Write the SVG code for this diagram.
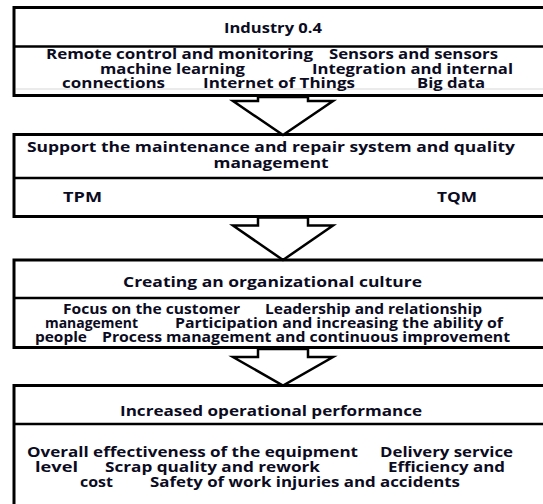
<svg xmlns="http://www.w3.org/2000/svg" width="543" height="504" viewBox="0 0 543 504">
  <style>
    .box { fill: #ffffff; stroke: #000000; stroke-width: 3; }
    .div { stroke: #000000; stroke-width: 2.5; fill: none; }
    .shade { stroke: #e4e4e4; stroke-width: 1.5; fill: none; }
    .arrow { fill: #ffffff; stroke: #000000; stroke-width: 2.5; stroke-linejoin: miter; }
    text { font-family: "Open Sans", "Liberation Sans", sans-serif; font-weight: 700; font-size: 13.5px; fill: #0b0b22; }
    .c { text-anchor: middle; }
  </style>
  <rect width="543" height="504" fill="#ffffff"/>

  <!-- Stage 1 -->
  <g id="industry">
    <rect class="box" x="14" y="7.5" width="560" height="88"/>
    <line class="div" x1="14" y1="46.5" x2="560" y2="46.5"/>
    <line class="shade" x1="16" y1="89" x2="560" y2="89"/>
    <text class="c" x="273" y="33" textLength="98" lengthAdjust="spacingAndGlyphs">Industry 0.4</text>
    <text>
      <tspan x="46" y="59" textLength="267" lengthAdjust="spacingAndGlyphs">Remote control and monitoring</tspan>
      <tspan x="329" y="59" textLength="169" lengthAdjust="spacingAndGlyphs">Sensors and sensors</tspan>
      <tspan x="100" y="73.5" textLength="145" lengthAdjust="spacingAndGlyphs">machine learning</tspan>
      <tspan x="312" y="73.5" textLength="201" lengthAdjust="spacingAndGlyphs">Integration and internal</tspan>
      <tspan x="62" y="88" textLength="103" lengthAdjust="spacingAndGlyphs">connections</tspan>
      <tspan x="203" y="88" textLength="152" lengthAdjust="spacingAndGlyphs">Internet of Things</tspan>
      <tspan x="417" y="88" textLength="68" lengthAdjust="spacingAndGlyphs">Big data</tspan>
    </text>
  </g>

  <!-- Stage 2 -->
  <g id="support">
    <rect class="box" x="14" y="134.5" width="560" height="82"/>
    <line class="div" x1="14" y1="178" x2="560" y2="178"/>
    <text>
      <tspan x="27" y="152" textLength="488" lengthAdjust="spacingAndGlyphs">Support the maintenance and repair system and quality</tspan>
      <tspan x="213.5" y="168" textLength="115" lengthAdjust="spacingAndGlyphs">management</tspan>
    </text>
    <text>
      <tspan x="63" y="202" textLength="39" lengthAdjust="spacingAndGlyphs">TPM</tspan>
      <tspan x="437" y="202" textLength="40" lengthAdjust="spacingAndGlyphs">TQM</tspan>
    </text>
  </g>

  <!-- Stage 3 -->
  <g id="culture">
    <rect class="box" x="14" y="260" width="560" height="87.5"/>
    <line class="div" x1="14" y1="298" x2="560" y2="298"/>
    <text class="c" x="272.5" y="286.5" textLength="299" lengthAdjust="spacingAndGlyphs">Creating an organizational  culture</text>
    <text>
      <tspan x="63" y="313.5" textLength="177" lengthAdjust="spacingAndGlyphs">Focus on the customer</tspan>
      <tspan x="265" y="313.5" textLength="217" lengthAdjust="spacingAndGlyphs">Leadership and relationship</tspan>
      <tspan x="45" y="327.5" textLength="93" lengthAdjust="spacingAndGlyphs">management</tspan>
      <tspan x="175" y="327.5" textLength="328" lengthAdjust="spacingAndGlyphs">Participation  and increasing the ability of</tspan>
      <tspan x="35" y="341.5" textLength="52" lengthAdjust="spacingAndGlyphs">people</tspan>
      <tspan x="102" y="341.5" textLength="408" lengthAdjust="spacingAndGlyphs">Process management and continuous  improvement</tspan>
    </text>
  </g>

  <!-- Stage 4 -->
  <g id="performance">
    <rect class="box" x="14" y="385.5" width="560" height="140"/>
    <line class="div" x1="14" y1="424" x2="560" y2="424"/>
    <text class="c" x="271" y="415.5" textLength="302" lengthAdjust="spacingAndGlyphs">Increased operational performance</text>
    <text>
      <tspan x="27" y="457" textLength="331" lengthAdjust="spacingAndGlyphs">Overall effectiveness of the equipment</tspan>
      <tspan x="380" y="457" textLength="133" lengthAdjust="spacingAndGlyphs">Delivery service</tspan>
      <tspan x="35" y="472" textLength="43" lengthAdjust="spacingAndGlyphs">level</tspan>
      <tspan x="105" y="472" textLength="215" lengthAdjust="spacingAndGlyphs">Scrap quality and  rework</tspan>
      <tspan x="388" y="472" textLength="117" lengthAdjust="spacingAndGlyphs">Efficiency and</tspan>
      <tspan x="80" y="487" textLength="33" lengthAdjust="spacingAndGlyphs">cost</tspan>
      <tspan x="150" y="487" textLength="310" lengthAdjust="spacingAndGlyphs">Safety of work injuries and accidents</tspan>
    </text>
  </g>

  <!-- Block arrows between stages -->
  <g id="connectors">
    <polygon class="arrow" points="258,97 258,101 233,101 283,135 333,101 308,101 308,97"/>
    <polygon class="arrow" points="258,217.5 258,225.5 233,225.5 283,260 333,225.5 308,225.5 308,217.5"/>
    <polygon class="arrow" points="258,349 258,357 233,357 283,385.5 333,357 308,357 308,349"/>
  </g>
</svg>
